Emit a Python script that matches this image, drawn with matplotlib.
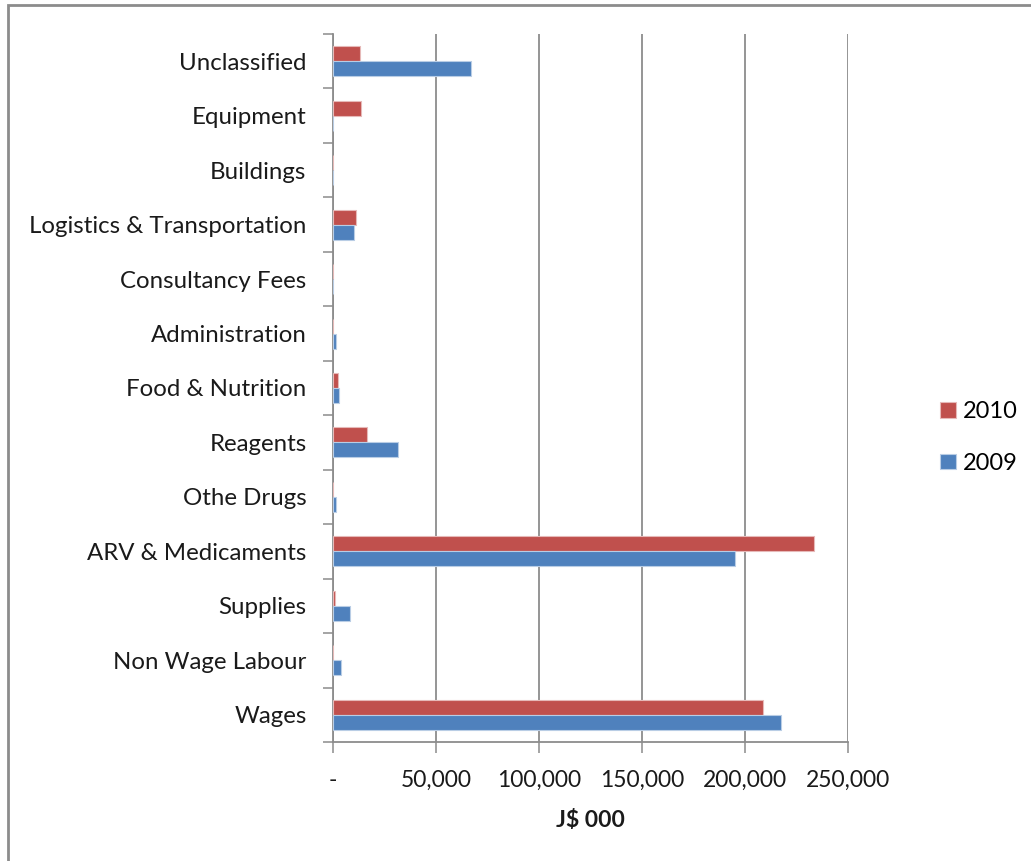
import numpy as np
import matplotlib.pyplot as plt
from matplotlib.patches import Rectangle
from matplotlib.ticker import FixedLocator, FuncFormatter

plt.rcParams['font.family'] = ['Lato', 'DejaVu Sans']

# spending categories, listed bottom to top
categories = ['Wages', 'Non Wage Labour', 'Supplies', 'ARV & Medicaments',
              'Othe Drugs', 'Reagents', 'Food & Nutrition', 'Administration',
              'Consultancy Fees', 'Logistics & Transportation', 'Buildings',
              'Equipment', 'Unclassified']
spend_2010 = [208900, 0, 1100, 233600, 0, 16500, 2300, 0, 0, 11000, 0, 13600, 13000]
spend_2009 = [217600, 4000, 8400, 195300, 1600, 31600, 2900, 1600, 0, 10400, 0, 0, 67100]
x_ticks = [0, 50000, 100000, 150000, 200000, 250000]

red = '#C0504D'
blue = '#4F81BD'
grid_grey = '#8C8C8C'

fig = plt.figure(figsize=(10.31, 8.61), dpi=100)
ax = fig.add_axes([333 / 1031, 1 - 742 / 861, (848 - 333) / 1031, (742 - 34) / 861])

y = np.arange(len(categories))
h = 0.275
ax.barh(y + h / 2, spend_2010, height=h, color=red, edgecolor='#E6B9B8',
        linewidth=0.8, label='2010', zorder=3)
ax.barh(y - h / 2, spend_2009, height=h, color=blue, edgecolor='#B9CDE5',
        linewidth=0.8, label='2009', zorder=3)

ax.set_xlim(0, 250000)
ax.set_ylim(-0.5, len(categories) - 0.5)

ax.xaxis.set_major_locator(FixedLocator(x_ticks))
ax.xaxis.set_major_formatter(FuncFormatter(lambda v, p: '-' if v == 0 else f'{v:,.0f}'))
ax.grid(axis='x', color=grid_grey, linewidth=1.3, zorder=0)
ax.tick_params(axis='x', direction='out', length=8, width=1.1, color=grid_grey,
               labelsize=16.5, pad=12, labelcolor='#1a1a1a')

ax.set_yticks(y)
ax.set_yticklabels(categories)
ax.set_yticks(np.arange(-0.5, len(categories)), minor=True)
ax.tick_params(axis='y', which='major', length=0, labelsize=17.3, pad=19,
               labelcolor='#1a1a1a')
ax.tick_params(axis='y', which='minor', direction='out', length=7, width=1.1,
               color=grid_grey)

for side in ['top', 'right']:
    ax.spines[side].set_visible(False)
for side in ['left', 'bottom']:
    ax.spines[side].set_color(grid_grey)
    ax.spines[side].set_linewidth(1.3)

ax.set_xlabel('J$ 000', fontsize=16.5, fontweight='bold', labelpad=14, color='#1a1a1a')

ax.legend(loc='center left', bbox_to_anchor=(1.138, 0.43), frameon=False,
          fontsize=17, handlelength=0.65, handleheight=0.65, handletextpad=0.3,
          labelspacing=1.3)

# outer chart border
fig.patches.append(Rectangle((8 / 1031, -0.05), 1.1, 1 - 5 / 861 + 0.05,
                             transform=fig.transFigure, fill=False,
                             edgecolor='#8C8C8C', linewidth=2))

fig.savefig('out.png', dpi=100)
